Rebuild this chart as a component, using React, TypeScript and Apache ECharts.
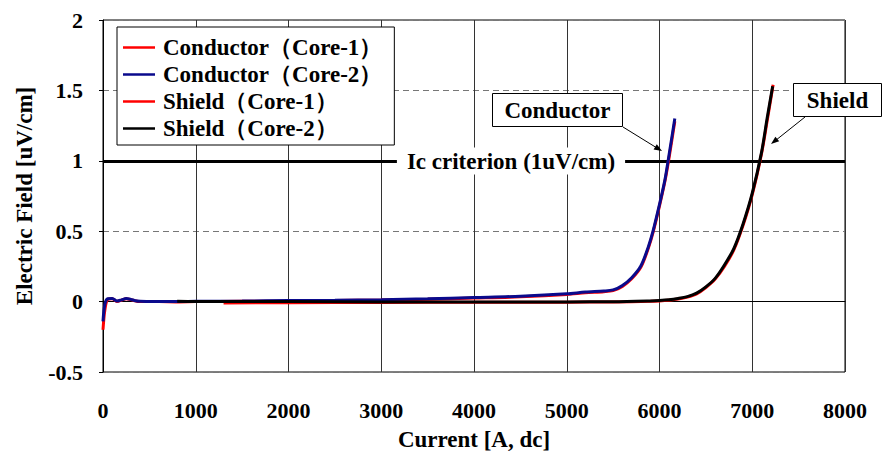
import React, { useEffect, useRef } from "react";
import * as echarts from "echarts";

// ---- Data ----
const condCurrent = [0, 20, 50, 100, 150, 200, 250, 300, 350, 400, 500, 600, 800, 1000, 1500, 2000, 2500, 3000, 3500, 4000, 4500, 5000, 5200, 5400, 5500, 5600, 5700, 5800, 5880, 5930, 6000, 6060, 6100, 6165];
const condCore1 = [-0.2, -0.06, 0.015, 0.02, 0.0, 0.01, 0.02, 0.014, 0.005, 0.0, 0.0, 0.0, -0.002, 0.0, 0.002, 0.004, 0.007, 0.011, 0.017, 0.025, 0.034, 0.05, 0.062, 0.07, 0.078, 0.108, 0.162, 0.245, 0.38, 0.49, 0.68, 0.86, 1.01, 1.28];
const condCore2 = [-0.14, -0.02, 0.02, 0.022, 0.004, 0.012, 0.022, 0.016, 0.006, 0.002, 0.001, 0.001, 0.0, 0.002, 0.004, 0.007, 0.01, 0.014, 0.02, 0.029, 0.038, 0.055, 0.068, 0.075, 0.083, 0.115, 0.17, 0.255, 0.39, 0.5, 0.69, 0.87, 1.03, 1.3];

const shieldCurrent1 = [1300, 2000, 3000, 4000, 5000, 5500, 5900, 6000, 6100, 6200, 6300, 6400, 6500, 6600, 6700, 6800, 6900, 7000, 7100, 7160, 7225];
const shieldCore1 = [-0.01, -0.008, -0.006, -0.005, -0.004, -0.002, 0.002, 0.005, 0.01, 0.018, 0.032, 0.055, 0.1, 0.16, 0.25, 0.365, 0.54, 0.76, 1.05, 1.28, 1.54];
const shieldCurrent2 = [800, 1000, 2000, 3000, 4000, 5000, 5500, 5900, 6000, 6100, 6200, 6300, 6400, 6500, 6600, 6700, 6800, 6900, 7000, 7100, 7160, 7220];
const shieldCore2 = [0.002, 0.001, 0.0, -0.002, -0.003, -0.002, -0.001, 0.005, 0.008, 0.013, 0.022, 0.035, 0.06, 0.105, 0.165, 0.26, 0.375, 0.55, 0.77, 1.06, 1.3, 1.53];

const seriesNames = ["Conductor（Core-1）", "Conductor（Core-2）", "Shield（Core-1）", "Shield（Core-2）"];
const seriesColors = ["#ff0000", "#0a0a8c", "#ff0000", "#000000"];

const icCriterion = 1;
const xTicks = { min: 0, max: 8000, interval: 1000 };
const yTicks = { min: -0.5, max: 2, interval: 0.5 };

const FONT = "'Liberation Serif', 'Times New Roman', serif";

function zip(xs: number[], ys: number[]) {
  return xs.map((x, i) => [x, ys[i]]);
}

export default function App() {
  const ref = useRef<HTMLDivElement>(null);
  useEffect(() => {
    if (!ref.current) return;
    const chart = echarts.init(ref.current, undefined, { renderer: "svg" });
    const datasets = [
      zip(condCurrent, condCore1),
      zip(condCurrent, condCore2),
      zip(shieldCurrent1, shieldCore1),
      zip(shieldCurrent2, shieldCore2),
    ];
    const series: any[] = datasets.map((d, i) => ({
      name: seriesNames[i],
      type: "line",
      data: d,
      showSymbol: false,
      symbol: "none",
      smooth: 0.3,
      lineStyle: { color: seriesColors[i], width: 3 },
      itemStyle: { color: seriesColors[i] },
      z: 3 + i,
    }));
    series[0].markLine = {
      silent: true,
      symbol: "none",
      label: { show: false },
      lineStyle: { color: "#000", width: 3, type: "solid" },
      data: [{ yAxis: icCriterion }],
      z: 2,
    };

    const txt = { fontFamily: FONT, fontWeight: "bold", fontSize: 23, fill: "#000" };
    chart.setOption({
      animation: false,
      backgroundColor: "#fff",
      grid: { left: 103, right: 38, top: 20, bottom: 91, show: true, borderColor: "#000", borderWidth: 1, backgroundColor: "transparent" },
      legend: {
        orient: "vertical",
        left: 117,
        top: 27,
        width: 250,
        padding: [9, 12, 5, 6],
        itemGap: 4,
        itemWidth: 32,
        itemHeight: 2.5,
        icon: "rect",
        backgroundColor: "#fff",
        borderColor: "#000",
        borderWidth: 1,
        textStyle: { fontFamily: FONT, fontWeight: "bold", fontSize: 23, color: "#000", padding: [0, 0, 0, 3] },
        data: seriesNames,
      },
      xAxis: {
        type: "value",
        min: xTicks.min,
        max: xTicks.max,
        interval: xTicks.interval,
        name: "Current [A, dc]",
        nameLocation: "middle",
        nameGap: 56,
        nameTextStyle: { fontFamily: FONT, fontWeight: "bold", fontSize: 23, color: "#000" },
        axisLine: { lineStyle: { color: "#000", width: 1 } },
        axisTick: { show: false },
        axisLabel: { fontFamily: FONT, fontWeight: "bold", fontSize: 22, color: "#000", margin: 27, formatter: (v: number) => String(v) },
        splitLine: { show: true, lineStyle: { color: "#333", width: 1, type: "solid" } },
      },
      yAxis: {
        type: "value",
        min: yTicks.min,
        max: yTicks.max,
        interval: yTicks.interval,
        name: "Electric Field [uV/cm]",
        nameLocation: "middle",
        nameGap: 67,
        nameTextStyle: { fontFamily: FONT, fontWeight: "bold", fontSize: 23, color: "#000" },
        axisLine: { lineStyle: { color: "#000", width: 1 } },
        axisTick: { show: true, length: 4, lineStyle: { color: "#000" } },
        axisLabel: { fontFamily: FONT, fontWeight: "bold", fontSize: 22, color: "#000", margin: 20, formatter: (v: number) => String(v) },
        splitLine: { show: true, lineStyle: { color: "#777", width: 1, type: [6, 4] } },
      },
      series,
      graphic: [
        {
          type: "text",
          x: 511,
          y: 161,
          z: 100,
          style: { ...txt, text: "Ic criterion (1uV/cm)", align: "center", verticalAlign: "middle", backgroundColor: "#fff", padding: [2, 10] },
        },
        { type: "rect", z: 100, shape: { x: 492.5, y: 93.5, width: 130, height: 33 }, style: { fill: "#fff", stroke: "#000", lineWidth: 1 } },
        { type: "text", z: 101, x: 557.5, y: 110, style: { ...txt, text: "Conductor", align: "center", verticalAlign: "middle" } },
        { type: "line", z: 100, shape: { x1: 623, y1: 127, x2: 657, y2: 148 }, style: { stroke: "#000", lineWidth: 1 } },
        { type: "polygon", z: 100, shape: { points: [[662, 151], [653.6, 149.4], [656.8, 144.3]] }, style: { fill: "#000" } },
        { type: "rect", z: 100, shape: { x: 793.5, y: 83.5, width: 88, height: 33 }, style: { fill: "#fff", stroke: "#000", lineWidth: 1 } },
        { type: "text", z: 101, x: 837.5, y: 100, style: { ...txt, text: "Shield", align: "center", verticalAlign: "middle" } },
        { type: "line", z: 100, shape: { x1: 805, y1: 117, x2: 775.5, y2: 140.5 }, style: { stroke: "#000", lineWidth: 1 } },
        { type: "polygon", z: 100, shape: { points: [[771, 144], [775.4, 136.7], [779.2, 141.3]] }, style: { fill: "#000" } },
      ],
    });
    return () => chart.dispose();
  }, []);
  return <div ref={ref} style={{ position: "fixed", left: 0, top: 0, width: 883, height: 463 }} />;
}
